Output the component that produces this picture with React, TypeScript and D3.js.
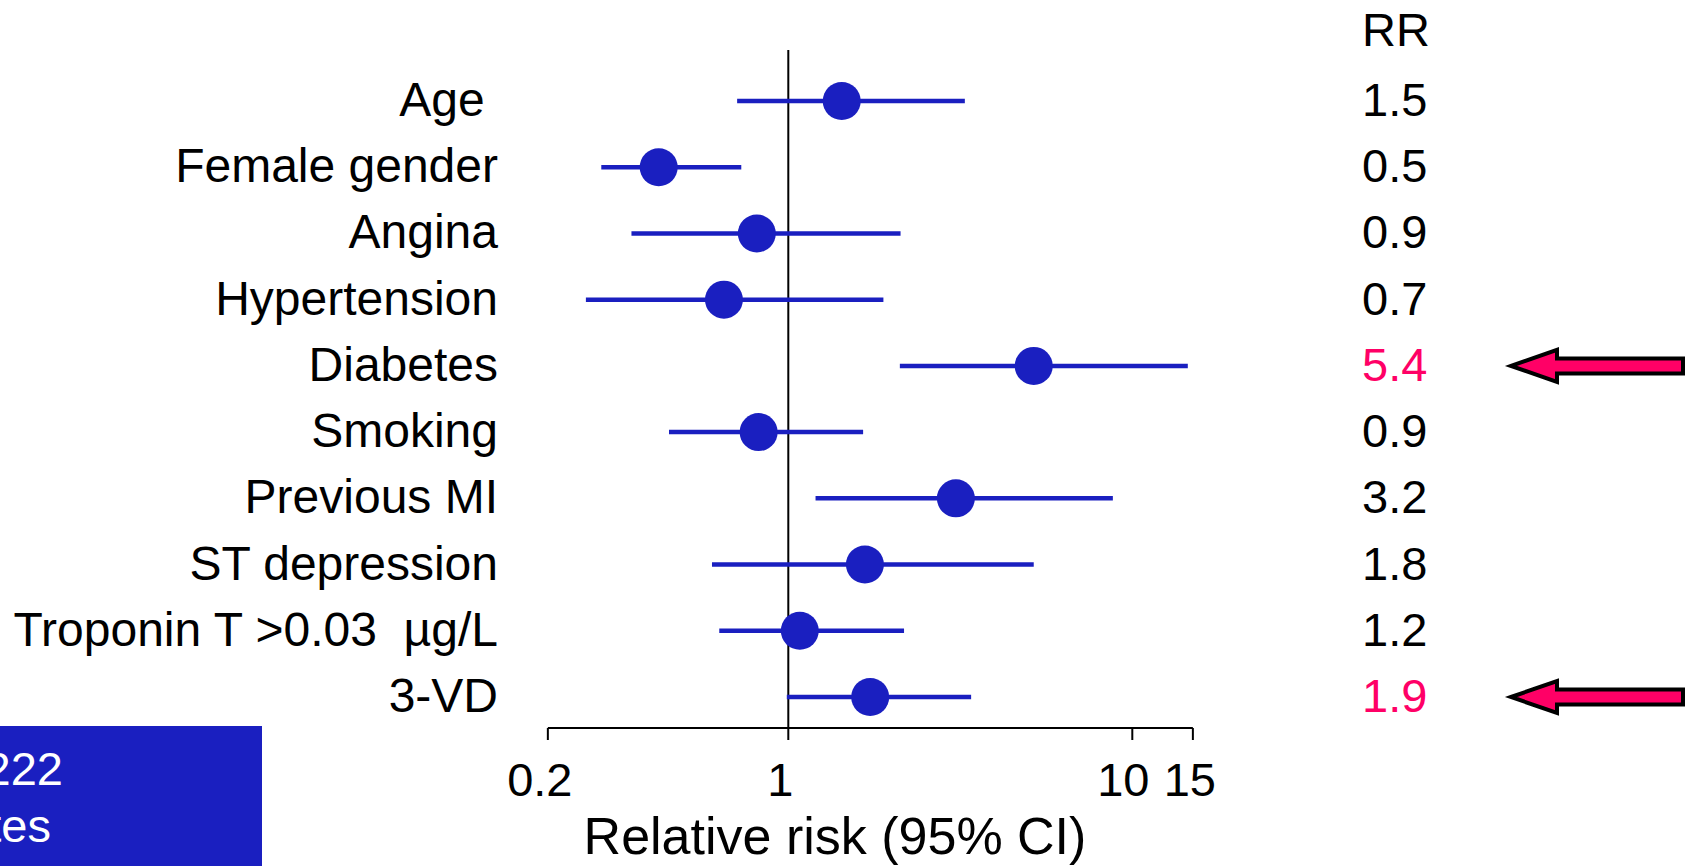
import React from "react";
import * as d3 from "d3";

const factors = [
  "Age ",
  "Female gender",
  "Angina",
  "Hypertension",
  "Diabetes",
  "Smoking",
  "Previous MI",
  "ST depression",
  "Troponin T >0.03  µg/L",
  "3-VD",
];
const pointEstimate = [1.43, 0.42, 0.81, 0.65, 5.17, 0.82, 3.07, 1.67, 1.08, 1.73];
const ciLower = [0.71, 0.286, 0.35, 0.258, 2.11, 0.45, 1.2, 0.6, 0.63, 0.99];
const ciUpper = [3.26, 0.73, 2.12, 1.89, 14.5, 1.65, 8.78, 5.17, 2.17, 3.4];
const rrLabels = ["1.5", "0.5", "0.9", "0.7", "5.4", "0.9", "3.2", "1.8", "1.2", "1.9"];
const highlighted = [false, false, false, false, true, false, false, false, false, true];
const tickValues = [0.2, 1, 10, 15];
const tickLabels = ["0.2", "1", "10", "15"];
const boxLines = ["222", "tes"];

const W = 1691;
const H = 866;
const FONT = "'Liberation Sans', Arial, Helvetica, sans-serif";
const BLUE = "#1A1FC0";
const PINK = "#FF0066";

export default function App() {
  const x = d3.scaleLog().domain([1, 10]).range([788.3, 1132.3]);
  const y = d3
    .scalePoint<number>()
    .domain(d3.range(factors.length))
    .range([101, 697]);
  const axisY = 728;
  const refTop = 50;
  const tickDx = [-8, -8, -9, -3];

  const arrowPath = (yc: number) => {
    const tip = 1511;
    const back = 1557;
    const end = 1683;
    const sh = 7.5;
    const hh = 16;
    return `M${tip},${yc} L${back},${yc - hh} L${back},${yc - sh} L${end},${yc - sh} L${end},${yc + sh} L${back},${yc + sh} L${back},${yc + hh} Z`;
  };

  return (
    <svg
      width={W}
      height={H}
      style={{ position: "fixed", left: 0, top: 0, background: "#fff" }}
      fontFamily={FONT}
    >
      {/* reference line at RR = 1 */}
      <line x1={x(1)} x2={x(1)} y1={refTop} y2={axisY} stroke="#000" strokeWidth={2} />

      {/* axis */}
      <line x1={x(0.2)} x2={x(15)} y1={axisY} y2={axisY} stroke="#000" strokeWidth={2} />
      {tickValues.map((t, i) => (
        <g key={"t" + i}>
          <line x1={x(t)} x2={x(t)} y1={axisY} y2={axisY + 12} stroke="#000" strokeWidth={2} />
          <text
            x={x(t) + tickDx[i]}
            y={796}
            fontSize={47}
            textAnchor="middle"
            fill="#000"
          >
            {tickLabels[i]}
          </text>
        </g>
      ))}
      <text x={835} y={854} fontSize={52} textAnchor="middle" fill="#000">
        Relative risk (95% CI)
      </text>

      {/* rows */}
      {factors.map((f, i) => {
        const yc = y(i) as number;
        return (
          <g key={"r" + i}>
            <text
              x={498}
              y={yc + 15}
              fontSize={48}
              textAnchor="end"
              fill="#000"
              style={{ whiteSpace: "pre" }}
            >
              {f}
            </text>
            <line
              x1={x(ciLower[i])}
              x2={x(ciUpper[i])}
              y1={yc}
              y2={yc}
              stroke={BLUE}
              strokeWidth={4.5}
            />
            <circle cx={x(pointEstimate[i])} cy={yc} r={19} fill={BLUE} />
            <text
              x={1362}
              y={yc + 15}
              fontSize={47}
              fill={highlighted[i] ? PINK : "#000"}
            >
              {rrLabels[i]}
            </text>
            {highlighted[i] && (
              <path d={arrowPath(yc)} fill={PINK} stroke="#000" strokeWidth={4} strokeLinejoin="miter" />
            )}
          </g>
        );
      })}

      <text x={1362} y={46} fontSize={47} fill="#000">
        RR
      </text>

      {/* blue box, partially off-page */}
      <rect x={-10} y={726} width={272} height={150} fill={BLUE} />
      <text x={63} y={785} fontSize={47} textAnchor="end" fill="#fff">
        {boxLines[0]}
      </text>
      <text x={51} y={842} fontSize={47} textAnchor="end" fill="#fff">
        {boxLines[1]}
      </text>
    </svg>
  );
}
